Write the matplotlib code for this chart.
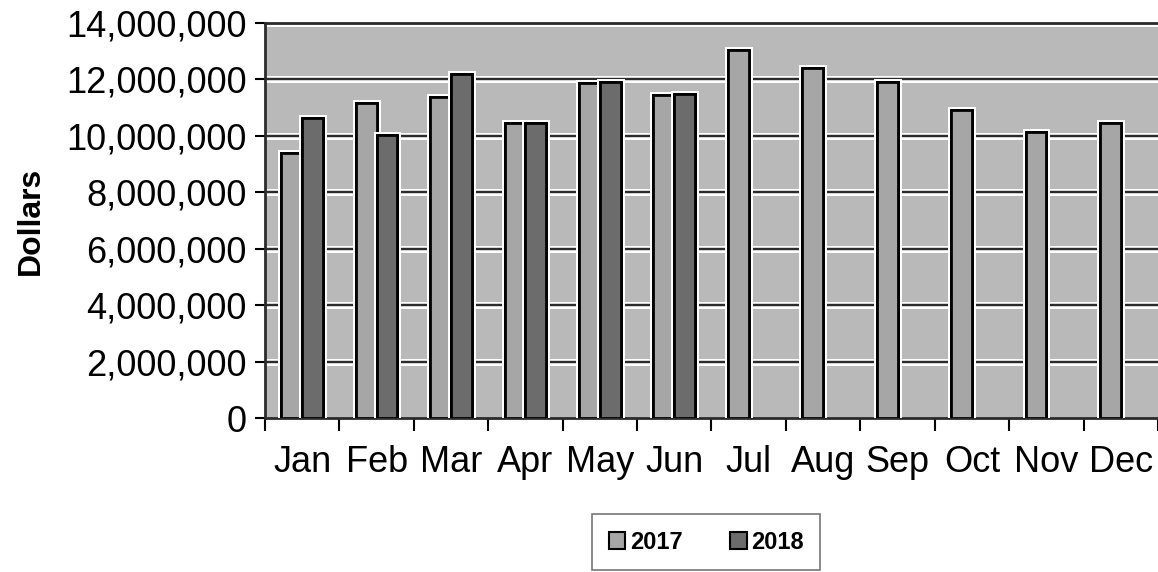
import matplotlib.pyplot as plt
import matplotlib.patheffects as pe
from matplotlib.patches import Patch
from matplotlib.ticker import FuncFormatter
import numpy as np

plt.rcParams['font.family'] = ['Liberation Sans', 'DejaVu Sans']

months = ['Jan', 'Feb', 'Mar', 'Apr', 'May', 'Jun',
          'Jul', 'Aug', 'Sep', 'Oct', 'Nov', 'Dec']
sales_2017 = [9400000, 11170000, 11380000, 10460000, 11880000, 11450000,
              13050000, 12410000, 11900000, 10920000, 10140000, 10460000]
sales_2018 = [10640000, 10030000, 12200000, 10460000, 11900000, 11470000]

c2017 = '#a6a6a6'
c2018 = '#6c6c6c'
bg = '#b9b9b9'

fig = plt.figure(figsize=(11.58, 5.72), dpi=100)
ax = fig.add_axes([0.2288, 0.269, 0.7712, 0.691])
ax.set_facecolor(bg)

x = np.arange(len(months))
w = 0.28
halo = [pe.withStroke(linewidth=5, foreground='white'), pe.Normal()]

b1 = ax.bar(x - w / 2, sales_2017, w, color=c2017, edgecolor='black',
            linewidth=2, zorder=3)
b2 = ax.bar(x[:len(sales_2018)] + w / 2, sales_2018, w, color=c2018,
            edgecolor='black', linewidth=2, zorder=3)
for b in list(b1) + list(b2):
    b.set_path_effects(halo)

ax.set_xlim(-0.5, len(months) - 0.5)
ax.set_ylim(0, 14000000)
ax.set_yticks(np.arange(0, 14000001, 2000000))
ax.yaxis.set_major_formatter(FuncFormatter(lambda v, p: f'{int(v):,}'))

# gridlines with a white halo like the scanned original
for yv in np.arange(2000000, 14000001, 2000000):
    ax.axhline(yv, color='#2b2b2b', linewidth=1.6, zorder=1,
               path_effects=[pe.withStroke(linewidth=5, foreground='white'), pe.Normal()])

ax.set_xticks(x)
ax.set_xticklabels(months)
ax.set_xticks(np.arange(-0.5, len(months)), minor=True)
ax.tick_params(axis='x', which='major', length=0, pad=19, labelsize=26)
ax.tick_params(axis='x', which='minor', length=9, width=1.5, direction='out')
ax.tick_params(axis='y', length=7, width=1.5, direction='out', pad=6, labelsize=26)

for s in ['left', 'bottom', 'top']:
    ax.spines[s].set_color('#2b2b2b')
    ax.spines[s].set_linewidth(2)
ax.spines['right'].set_visible(False)

ax.set_ylabel('Dollars', fontsize=23, fontweight='bold')
ax.yaxis.set_label_coords(-0.245, 0.5)

handles = [Patch(facecolor=c2017, edgecolor='black', linewidth=1.5, label='2017'),
           Patch(facecolor=c2018, edgecolor='black', linewidth=1.5, label='2018')]
leg = fig.legend(handles=handles, loc='center', bbox_to_anchor=(0.61, 0.052),
                 ncol=2, fontsize=17, frameon=True, fancybox=False,
                 handlelength=0.7, handleheight=0.7, handletextpad=0.2,
                 columnspacing=2.0, borderpad=0.7,
                 prop={'size': 17, 'weight': 'bold'})
leg.get_frame().set_edgecolor('#555555')
leg.get_frame().set_linewidth(1.2)

fig.savefig('out.png', dpi=100)
